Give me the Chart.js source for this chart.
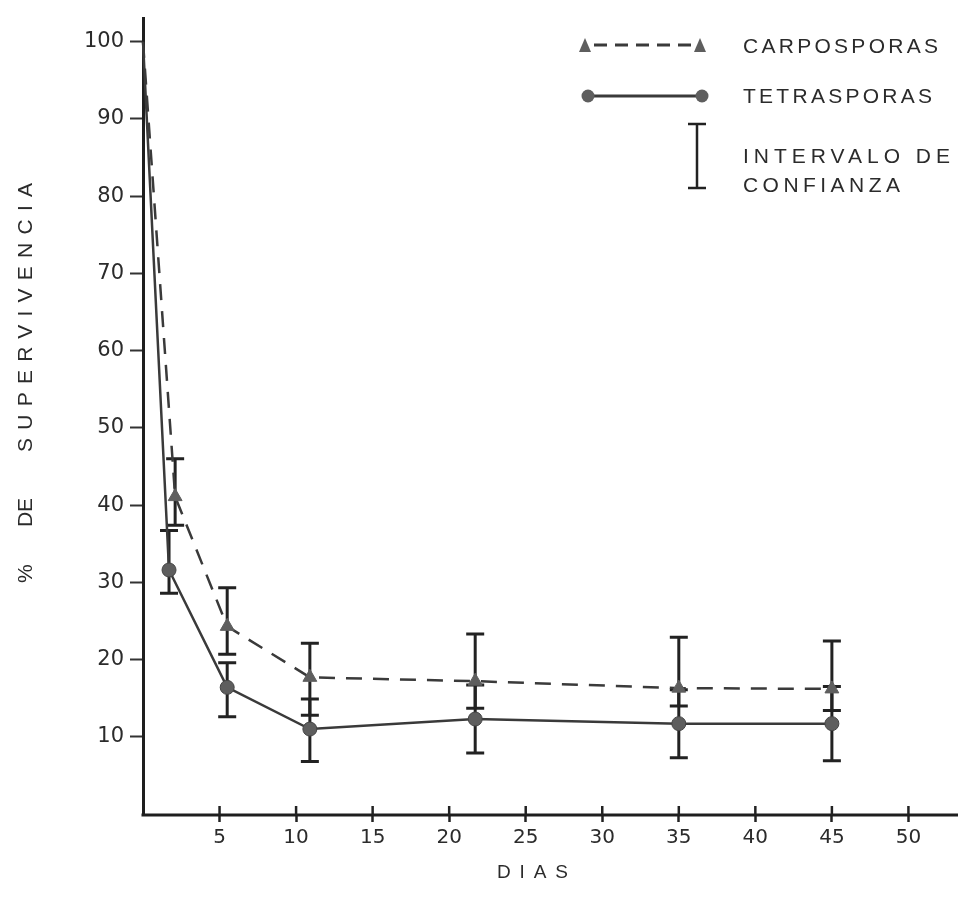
<!DOCTYPE html>
<html>
<head>
<meta charset="utf-8">
<script src="https://cdn.jsdelivr.net/npm/chart.js@4"></script>
<style>
html,body{margin:0;padding:0;background:#fff;}
#wrap{width:958px;height:909px;position:relative;}
</style>
</head>
<body>
<div id="wrap"><canvas id="c" width="958" height="909"></canvas></div>
<script>
// ---- data ----
const carpoDays = [0, 2.1, 5.5, 10.9, 21.7, 35, 45];
const carpoVals = [100, 41.1, 24.3, 17.7, 17.2, 16.3, 16.2];
const carpoHi   = [null, 46.0, 29.3, 22.1, 23.3, 22.9, 22.4];
const carpoLo   = [null, 37.4, 20.7, 12.8, 13.7, 14.0, 13.4];

const tetraDays = [0, 1.7, 5.5, 10.9, 21.7, 35, 45];
const tetraVals = [100, 31.6, 16.4, 11.0, 12.3, 11.7, 11.7];
const tetraHi   = [null, 36.7, 19.6, 14.9, 16.7, 16.1, 16.5];
const tetraLo   = [null, 28.6, 12.6, 6.8, 7.9, 7.3, 6.9];

const xTickValues = [5, 10, 15, 20, 25, 30, 35, 40, 45, 50];
const yTickValues = [10, 20, 30, 40, 50, 60, 70, 80, 90, 100];

const seriesNames = ['CARPOSPORAS', 'TETRASPORAS'];
const legendCI = ['INTERVALO DE', 'CONFIANZA'];
const xTitle = 'DIAS';
const yTitleWords = ['%', 'DE', 'SUPERVIVENCIA'];

const INK = '#2b2b2b';
const LINE = '#3a3a3a';
const MARK = '#5e5e5e';

function spacedText(ctx, text, x, y, target) {
  ctx.letterSpacing = '0px';
  const w = ctx.measureText(text).width;
  const n = Math.max(text.length - 1, 1);
  const ls = (target - w) / n;
  ctx.letterSpacing = ls + 'px';
  ctx.fillText(text, x, y);
  ctx.letterSpacing = '0px';
}

const decor = {
  id: 'decor',
  beforeDatasetsDraw(chart) {
    const ctx = chart.ctx, xs = chart.scales.x, ys = chart.scales.y;
    const area = chart.chartArea;
    ctx.save();
    // x axis line, from the y axis to the page edge
    const by = area.bottom + 1;
    ctx.strokeStyle = '#1e1e1e'; ctx.lineWidth = 3;
    ctx.beginPath(); ctx.moveTo(area.left - 1.5, by); ctx.lineTo(chart.width, by); ctx.stroke();
    ctx.strokeStyle = '#222';
    ctx.lineWidth = 3;
    const bars = [[carpoDays, carpoHi, carpoLo], [tetraDays, tetraHi, tetraLo]];
    for (const [d, hi, lo] of bars) {
      for (let i = 0; i < d.length; i++) {
        if (hi[i] == null) continue;
        const px = xs.getPixelForValue(d[i]);
        const pt = ys.getPixelForValue(hi[i]);
        const pb = ys.getPixelForValue(lo[i]);
        ctx.beginPath();
        ctx.moveTo(px, pt); ctx.lineTo(px, pb);
        ctx.moveTo(px - 9, pt); ctx.lineTo(px + 9, pt);
        ctx.moveTo(px - 9, pb); ctx.lineTo(px + 9, pb);
        ctx.stroke();
      }
    }
    // upper half of x tick marks (ticks cross the axis)
    ctx.lineWidth = 2.5;
    for (const v of xTickValues) {
      const px = xs.getPixelForValue(v);
      ctx.beginPath(); ctx.moveTo(px, by - 9); ctx.lineTo(px, by); ctx.stroke();
    }
    ctx.restore();
  },
  afterDraw(chart) {
    const ctx = chart.ctx;
    ctx.save();
    ctx.fillStyle = INK;
    ctx.textBaseline = 'middle';
    ctx.textAlign = 'left';
    // legend
    ctx.font = '21px "Liberation Sans", Arial, sans-serif';
    spacedText(ctx, seriesNames[0], 743, 47, 195);
    spacedText(ctx, seriesNames[1], 743, 97, 189);
    spacedText(ctx, legendCI[0], 743, 157, 207);
    spacedText(ctx, legendCI[1], 743, 186, 157);
    // legend symbols
    ctx.strokeStyle = LINE; ctx.lineWidth = 3;
    ctx.setLineDash([13, 8]);
    ctx.beginPath(); ctx.moveTo(594, 45); ctx.lineTo(692, 45); ctx.stroke();
    ctx.setLineDash([]);
    ctx.fillStyle = MARK;
    for (const cx of [585, 700]) {
      ctx.beginPath(); ctx.moveTo(cx, 38); ctx.lineTo(cx + 6, 52); ctx.lineTo(cx - 6, 52); ctx.closePath(); ctx.fill();
    }
    ctx.beginPath(); ctx.moveTo(588, 96); ctx.lineTo(702, 96); ctx.stroke();
    for (const cx of [588, 702]) {
      ctx.beginPath(); ctx.arc(cx, 96, 6.5, 0, Math.PI * 2); ctx.fill();
    }
    ctx.strokeStyle = '#222'; ctx.lineWidth = 2.5;
    ctx.beginPath();
    ctx.moveTo(697, 124); ctx.lineTo(697, 188);
    ctx.moveTo(688, 124); ctx.lineTo(706, 124);
    ctx.moveTo(688, 188); ctx.lineTo(706, 188);
    ctx.stroke();
    // x title
    ctx.fillStyle = INK;
    ctx.font = '19px "Liberation Sans", Arial, sans-serif';
    spacedText(ctx, xTitle, 497, 873, 71);
    // y title (rotated)
    ctx.translate(26, 0);
    ctx.rotate(-Math.PI / 2);
    ctx.font = '21px "Liberation Sans", Arial, sans-serif';
    spacedText(ctx, yTitleWords[0], -583, 0, 20);
    spacedText(ctx, yTitleWords[1], -527, 0, 29);
    spacedText(ctx, yTitleWords[2], -452, 0, 269);
    ctx.restore();
  }
};

const pr = (r) => (c) => (c.dataIndex === 0 ? 0 : r);

new Chart(document.getElementById('c'), {
  type: 'line',
  data: {
    datasets: [
      {
        label: seriesNames[0],
        data: carpoDays.map((d, i) => ({ x: d, y: carpoVals[i] })),
        borderColor: LINE, borderWidth: 2.5, borderDash: [16, 11],
        pointStyle: 'triangle', pointRadius: pr(8), pointHoverRadius: pr(8),
        pointBackgroundColor: MARK, pointBorderColor: MARK, pointBorderWidth: 1,
        tension: 0, clip: false, fill: false
      },
      {
        label: seriesNames[1],
        data: tetraDays.map((d, i) => ({ x: d, y: tetraVals[i] })),
        borderColor: LINE, borderWidth: 2.5,
        pointStyle: 'circle', pointRadius: pr(7), pointHoverRadius: pr(7),
        pointBackgroundColor: MARK, pointBorderColor: '#444', pointBorderWidth: 1,
        tension: 0, clip: false, fill: false
      }
    ]
  },
  options: {
    responsive: false,
    animation: false,
    devicePixelRatio: 1,
    layout: { padding: { top: 15, right: 0, left: 0, bottom: 0 } },
    plugins: { legend: { display: false }, tooltip: { enabled: false } },
    scales: {
      x: {
        type: 'linear', min: 0, max: 52.65,
        afterBuildTicks: (ax) => { ax.ticks = xTickValues.map(v => ({ value: v })); },
        afterFit: (ax) => { ax.height = 95; },
        ticks: { color: INK, font: { family: '"DejaVu Sans", sans-serif', size: 20 }, padding: 4, maxRotation: 0, autoSkip: false },
        grid: { drawOnChartArea: false, drawTicks: true, tickLength: 8, tickColor: '#222', tickWidth: 2.5 },
        border: { display: false }
      },
      y: {
        type: 'linear', min: 0, max: 103,
        afterBuildTicks: (ax) => { ax.ticks = yTickValues.map(v => ({ value: v })); },
        afterFit: (ax) => { ax.width = 143; },
        ticks: { color: INK, font: { family: '"DejaVu Sans", sans-serif', size: 21 }, padding: 6, autoSkip: false },
        grid: { drawOnChartArea: false, drawTicks: true, tickLength: 13, tickColor: '#333', tickWidth: 2 },
        border: { display: true, color: '#1e1e1e', width: 3 }
      }
    }
  },
  plugins: [decor]
});
</script>
</body>
</html>
